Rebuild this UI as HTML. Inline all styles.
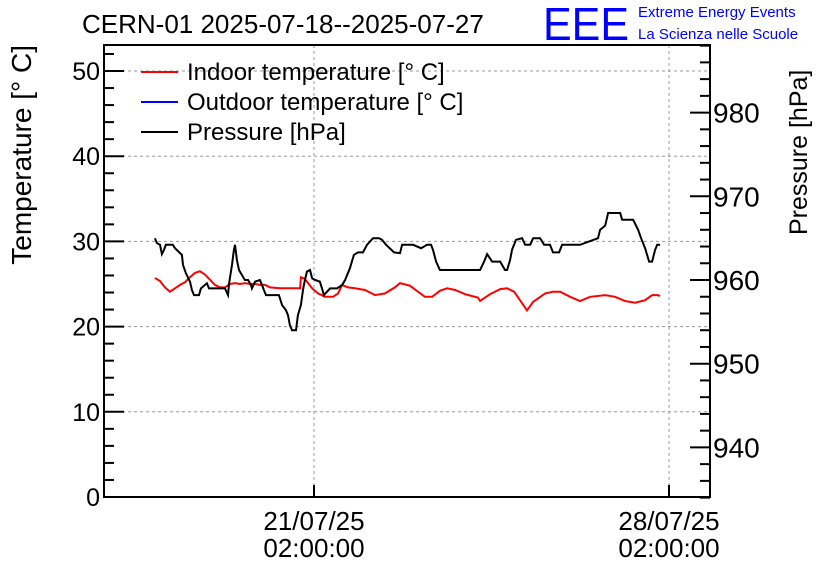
<!DOCTYPE html>
<html><head><meta charset="utf-8"><style>
body{margin:0;background:#fff}
svg text{font-family:"Liberation Sans",sans-serif}
</style></head><body>
<svg id="chart" width="836" height="572" xmlns="http://www.w3.org/2000/svg">
<rect width="836" height="572" fill="#fff"/>
<text x="82" y="33" font-size="26">CERN-01 2025-07-18--2025-07-27</text>
<text x="543" y="40" font-size="46" fill="#0000ff" textLength="86" lengthAdjust="spacingAndGlyphs">EEE</text>
<text x="638" y="17" font-size="15" fill="#0000ff">Extreme Energy Events</text>
<text x="638" y="39" font-size="15" fill="#0000ff">La Scienza nelle Scuole</text>
<g id="grid"></g>
<g id="series"></g>
<g id="axes"></g>
<g>
<line x1="141" y1="72" x2="178" y2="72" stroke="#ff0000" stroke-width="2"/>
<text x="187" y="80" font-size="24">Indoor temperature [° C]</text>
<line x1="141" y1="102" x2="178" y2="102" stroke="#0000ff" stroke-width="2"/>
<text x="187" y="110" font-size="24">Outdoor temperature [° C]</text>
<line x1="141" y1="132" x2="178" y2="132" stroke="#000" stroke-width="2"/>
<text x="187" y="140" font-size="24">Pressure [hPa]</text>
</g>
<text transform="translate(31,45) rotate(-90)" text-anchor="end" font-size="28">Temperature [° C]</text>
<text transform="translate(807,235) rotate(-90)" text-anchor="start" font-size="25">Pressure [hPa]</text>
</svg>
<script>
// hours relative to 21/07/25 02:00:00
const xTickHours=[0,168];
const xTickLabels=[["21/07/25","02:00:00"],["28/07/25","02:00:00"]];
const tempTicks=[0,10,20,30,40,50];
const presTicks=[940,950,960,970,980];
const presHours=[-75.3,-74.3,-72.9,-72.0,-71.0,-70.1,-66.8,-65.8,-62.5,-62.0,-60.6,-58.7,-57.8,-56.8,-54.4,-53.5,-50.7,-49.7,-42.1,-40.7,-40.2,-38.8,-37.9,-37.4,-36.5,-35.5,-34.1,-32.7,-31.2,-29.8,-29.4,-27.9,-25.6,-24.6,-23.7,-22.7,-16.6,-15.1,-13.3,-12.3,-11.4,-10.4,-8.5,-7.6,-6.2,-5.2,-4.3,-3.3,-1.9,-0.9,0.5,2.8,3.8,4.7,7.6,10.9,13.3,14.7,17.0,18.9,20.8,23.2,25.1,27.9,30.8,32.2,34.1,37.9,40.7,41.7,44.5,46.9,50.7,53.5,55.4,56.3,57.8,59.6,78.6,80.5,81.9,84.3,88.1,90.4,91.4,92.8,93.7,95.6,98.5,99.9,102.3,103.7,107.0,108.9,111.7,113.1,116.0,117.4,125.9,134.4,135.4,137.8,139.2,144.9,145.8,151.0,153.4,154.8,156.7,158.6,160.0,161.4,162.4,163.8];
const presValues=[965.0,964.4,964.2,963.1,963.6,964.2,964.2,963.8,963.0,961.8,960.8,959.8,958.8,958.2,958.2,959.0,959.6,959.0,959.0,958.2,959.6,961.8,963.6,964.2,962.4,961.2,960.6,960.0,960.0,959.4,959.0,959.8,960.0,959.4,958.8,958.2,958.2,957.0,956.4,955.8,954.6,954.0,954.0,955.8,957.0,958.8,960.0,961.0,961.2,960.2,960.0,959.8,959.0,958.2,959.0,959.0,959.4,960.0,961.4,963.0,963.3,963.3,964.2,965.0,965.0,964.8,964.2,963.3,963.2,964.2,964.2,964.2,963.8,964.2,964.2,963.6,962.2,961.2,961.2,962.2,963.1,962.2,962.2,961.2,961.2,962.4,963.6,964.8,965.0,964.2,964.2,965.0,965.0,964.2,964.2,963.3,963.3,964.2,964.2,965.0,966.0,966.5,968.0,968.0,967.2,967.2,966.0,965.0,963.8,962.2,962.2,963.6,964.2,964.2];
const indoorHours=[-75.3,-72.9,-70.5,-68.2,-65.8,-63.4,-61.1,-58.7,-56.3,-54.0,-51.6,-49.2,-46.9,-44.5,-42.1,-39.8,-37.4,-35.0,-32.7,-30.3,-27.9,-25.6,-23.2,-20.8,-16.1,-9.0,-6.6,-6.2,-4.3,-2.8,-0.9,1.9,5.2,9.0,11.4,13.3,16.1,19.4,24.1,28.9,33.6,38.3,40.7,45.4,49.2,52.5,55.9,59.6,63.0,66.8,71.5,77.6,78.6,83.3,88.1,91.4,94.7,97.5,100.8,103.7,109.4,113.1,116.5,121.2,125.9,130.7,137.8,142.5,147.2,152.0,156.7,160.0,162.4,163.8];
const indoorValues=[25.7,25.35,24.6,24.1,24.5,24.9,25.2,25.8,26.3,26.5,26.1,25.5,24.9,24.6,24.6,25.0,25.1,25.0,25.1,25.0,25.0,24.9,24.9,24.6,24.5,24.5,24.5,25.8,25.6,25.1,24.5,23.9,23.5,23.5,23.9,24.9,24.6,24.5,24.3,23.7,23.9,24.6,25.1,24.8,24.1,23.5,23.5,24.2,24.5,24.3,23.8,23.4,23.0,23.8,24.4,24.5,24.1,23.1,21.9,22.9,23.9,24.1,24.1,23.5,23.0,23.5,23.7,23.5,23.0,22.8,23.1,23.7,23.7,23.6];
const outdoorHours=[-75.3,163.8];
const outdoorValues=[0,0];

const L=104,R=710,T=45,B=497;
const xS=h=>314+h*(355/168);
const yT=v=>497-v*8.52;
const yP=v=>280-(v-960)*8.37;
const NS="http://www.w3.org/2000/svg";
function mk(tag,attrs,parent){const e=document.createElementNS(NS,tag);for(const k in attrs)e.setAttribute(k,attrs[k]);parent.appendChild(e);return e;}
const grid=document.getElementById('grid'),axes=document.getElementById('axes'),ser=document.getElementById('series');
tempTicks.forEach(v=>{if(v>0){const g=mk('line',{x1:L,x2:R,y1:yT(v),y2:yT(v),stroke:'#999','stroke-dasharray':'3,3','stroke-width':1},grid);

}});
xTickHours.forEach(h=>{const g=mk('line',{x1:xS(h),x2:xS(h),y1:T,y2:B,stroke:'#999','stroke-dasharray':'3,3','stroke-width':1},grid);

});
function path(hs,vs,ys,color,name){let d='';hs.forEach((h,i)=>{d+=(i?'L':'M')+xS(h).toFixed(1)+' '+ys(vs[i]).toFixed(1);});
const p=mk('path',{d:d,fill:'none',stroke:color,'stroke-width':2},ser);

}
path(indoorHours,indoorValues,yT,'#ff0000','indoor-temperature-line');
path(outdoorHours,outdoorValues,yT,'#0000ff','outdoor-temperature-line');
path(presHours,presValues,yP,'#000','pressure-line');
const fr=mk('rect',{x:L,y:T,width:R-L,height:B-T,fill:'none',stroke:'#000','stroke-width':2},axes);


for(let v=0;v<=52;v+=2){const maj=v%10===0;mk('line',{x1:L,x2:L+(maj?20:10),y1:yT(v),y2:yT(v),stroke:'#000','stroke-width':2},axes);}
tempTicks.forEach(v=>{const t=mk('text',{x:L-4,y:yT(v)+9,'text-anchor':'end','font-size':25},axes);t.textContent=v;

});
for(let v=934;v<=988;v+=2){const maj=v%10===0;mk('line',{x1:R,x2:R-(maj?20:10),y1:yP(v),y2:yP(v),stroke:'#000','stroke-width':2},axes);}
presTicks.forEach(v=>{const t=mk('text',{x:R+3,y:yP(v)+10,'font-size':28},axes);t.textContent=v;

});
xTickHours.forEach((h,i)=>{mk('line',{x1:xS(h),x2:xS(h),y1:B,y2:B-12,stroke:'#000','stroke-width':2},axes);
xTickLabels[i].forEach((s,j)=>{const t=mk('text',{x:xS(h),y:530+j*27,'text-anchor':'middle','font-size':26},axes);t.textContent=s;

});});
</script>
</body></html>
